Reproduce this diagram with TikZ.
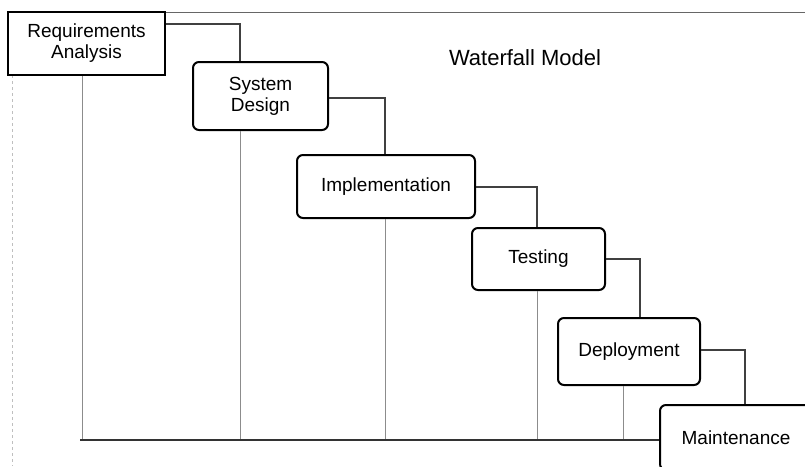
\documentclass[tikz,border=0pt]{standalone}
\usepackage{fontspec}
\setmainfont{Liberation Sans}
\begin{document}
\begin{tikzpicture}[x=1pt,y=-1pt,
  phase/.style={draw=black, line width=2pt, fill=white, rounded corners=6pt, align=center,
    font=\fontsize{19}{21}\selectfont, inner sep=0pt},
  flow/.style={draw=black!75, line width=1.2pt},
  drop/.style={draw=black!45, line width=1pt},
  base/.style={draw=black!80, line width=1.8pt}]
\useasboundingbox (0,0) rectangle (805,466);
\fill[white] (0,0) rectangle (805,466);
% frame lines
\draw[black!60, line width=1pt] (165,12) -- (805,12);
\draw[black!25, line width=0.8pt, dashed] (12,75) -- (12,466);
% title
\node[font=\fontsize{22}{24}\selectfont] (title) at (525,58) {Waterfall Model};
% phases
\node[phase, rounded corners=0pt, line width=2.4pt, minimum width=157pt, minimum height=63pt] (req) at (86.5,43.5) {Requirements\\Analysis};
\node[phase, minimum width=135pt, minimum height=68pt] (des) at (260.5,96) {System\\Design};
\node[phase, minimum width=178pt, minimum height=63pt] (imp) at (386,186.5) {Implementation};
\node[phase, minimum width=133pt, minimum height=62pt] (tes) at (538.5,259) {Testing};
\node[phase, minimum width=142pt, minimum height=67pt] (dep) at (629,351.5) {Deployment};
\node[phase, minimum width=152pt, minimum height=65pt] (mai) at (736,437.5) {Maintenance};
% flow connectors
\coordinate (c1) at (240,24);
\draw[flow] (req.east |- c1) -- (c1) -- (c1 |- des.north);
\coordinate (c2) at (385,98);
\draw[flow] (des.east |- c2) -- (c2) -- (c2 |- imp.north);
\coordinate (c3) at (537,187);
\draw[flow] (imp.east |- c3) -- (c3) -- (c3 |- tes.north);
\coordinate (c4) at (640,259);
\draw[flow] (tes.east |- c4) -- (c4) -- (c4 |- dep.north);
\coordinate (c5) at (745,350);
\draw[flow] (dep.east |- c5) -- (c5) -- (c5 |- mai.north);
% drops to baseline
\coordinate (b0) at (80,440);
\coordinate (b1) at (82,440);
\coordinate (b2) at (240,440);
\coordinate (b3) at (385,440);
\coordinate (b4) at (537,440);
\coordinate (b5) at (623,440);
\draw[drop] (b1 |- req.south) -- (b1);
\draw[drop] (b2 |- des.south) -- (b2);
\draw[drop] (b3 |- imp.south) -- (b3);
\draw[drop] (b4 |- tes.south) -- (b4);
\draw[drop] (b5 |- dep.south) -- (b5);
\draw[base] (b0) -- (b0 -| mai.west);
\end{tikzpicture}
\end{document}
